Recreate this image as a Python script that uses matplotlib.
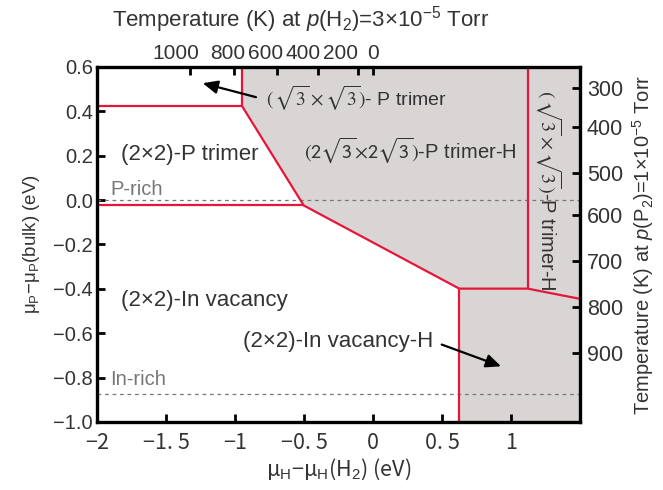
import matplotlib
matplotlib.use("Agg")
import matplotlib.pyplot as plt
from matplotlib.patches import Polygon

plt.rcParams['font.family'] = ['Liberation Sans', 'DejaVu Sans']
plt.rcParams['mathtext.fontset'] = 'custom'
plt.rcParams['mathtext.rm'] = 'Liberation Sans'
plt.rcParams['mathtext.it'] = 'Liberation Sans:italic'
plt.rcParams['mathtext.bf'] = 'Liberation Sans:bold'

# ---- data ----
x_ticks = [-2, -1.5, -1, -0.5, 0, 0.5, 1]
x_ticklabels = ["−2", "−1. 5", "−1", "−0. 5", "0", "0. 5", "1"]
y_ticks = [0.6, 0.4, 0.2, 0.0, -0.2, -0.4, -0.6, -0.8, -1.0]
y_ticklabels = ["0.6", "0.4", "0.2", "0.0", "−0.2", "−0.4", "−0.6", "−0.8", "−1.0"]

# top temperature axis (p(H2)=3e-5 Torr)
top_tick_pos = [-1.326, -1.009, -0.698, -0.401, -0.111, 0.0]
top_label_pos = [-1.428, -1.051, -0.775, -0.509, -0.239, 0.0]
top_labels = ["1000", "800", "600", "400", "200", "0"]

# right temperature axis (p(P2)=1e-5 Torr)
right_tick_pos = [0.504, 0.331, 0.120, -0.065, -0.274, -0.482, -0.690]
right_labels = ["300", "400", "500", "600", "700", "800", "900"]

# phase boundaries (red lines)
b1_x, b1_y = [-2.0, -0.951, -0.951], [0.426, 0.426, 0.6]
b2_x, b2_y = [-0.951, -0.502, 0.625], [0.426, -0.024, -0.399]
b3_x, b3_y = [-2.0, -0.502], [-0.024, -0.024]
b4_x, b4_y = [0.625, 0.625], [-0.399, -1.0]
b5_x, b5_y = [0.625, 1.121, 1.5], [-0.399, -0.399, -0.445]
b6_x, b6_y = [1.121, 1.121], [-0.399, 0.6]

# hydrogenated (shaded) region
shade_x = [-0.951, -0.951, -0.502, 0.625, 0.625, 1.5, 1.5]
shade_y = [0.6, 0.426, -0.024, -0.399, -1.0, -1.0, 0.6]

p_rich = 0.0
in_rich = -0.873

red = '#e3173a'
gray_fill = '#d9d5d5'
txt = '#333333'

fig = plt.figure(figsize=(6.63, 4.90), dpi=100)
ax = fig.add_axes([0.1463, 0.1388, 0.8748 - 0.1463, 0.8633 - 0.1388])
ax.set_xlim(-2, 1.5)
ax.set_ylim(-1.0, 0.6)

ax.add_patch(Polygon(list(zip(shade_x, shade_y)), closed=True,
                     facecolor=gray_fill, edgecolor='none', zorder=1))

for xs, ys in [(b1_x, b1_y), (b2_x, b2_y), (b3_x, b3_y), (b4_x, b4_y), (b5_x, b5_y), (b6_x, b6_y)]:
    ax.plot(xs, ys, color=red, lw=1.6, zorder=3, solid_capstyle='butt')

for yv in [p_rich, in_rich]:
    ax.axhline(yv, color='#777777', lw=0.9, ls=(0, (3, 3)), zorder=2)

# spines & ticks
for s in ax.spines.values():
    s.set_linewidth(2.4)
    s.set_zorder(5)
ax.set_xticks(x_ticks)
ax.set_xticklabels(x_ticklabels, family=['Noto Sans CJK JP', 'DejaVu Sans'], fontsize=15.5)
ax.set_yticks(y_ticks)
ax.set_yticklabels(y_ticklabels, fontsize=14.5)
ax.tick_params(axis='both', direction='in', length=6, width=2, colors='black',
               labelcolor=txt)
ax.tick_params(axis='x', pad=7)
ax.tick_params(axis='y', pad=3)

ax.set_xlabel("μ$_{\\mathrm{H}}$−μ$_{\\mathrm{H}}$(H$_2$) (eV)",
              family=['Noto Sans CJK JP', 'DejaVu Sans'], fontsize=15.5, color=txt)
ax.xaxis.set_label_coords(0.5, -0.098)
ax.set_ylabel("μ$_{\\mathrm{P}}$−μ$_{\\mathrm{P}}$(bulk) (eV)", fontsize=13.5, color=txt)
ax.yaxis.set_label_coords(-0.114, 0.5)

# top axis
axt = ax.twiny()
axt.set_xlim(ax.get_xlim())
axt.xaxis.remove_overlapping_locs = False
axt.set_xticks(top_tick_pos)
axt.set_xticklabels([""] * len(top_tick_pos))
axt.set_xticks(top_label_pos, minor=True)
axt.set_xticklabels(top_labels, minor=True, fontsize=15, color=txt)
axt.tick_params(axis='x', which='major', direction='in', length=6, width=2)
axt.tick_params(axis='x', which='minor', length=0, pad=3)
axt.set_xlabel("Temperature (K) at $\\it{p}$(H$_2$)=3×10$^{-5}$ Torr",
               fontsize=16, color=txt)
axt.xaxis.set_label_coords(0.422, 1.115)
for s in axt.spines.values():
    s.set_visible(False)

# right axis
axr = ax.twinx()
axr.set_ylim(ax.get_ylim())
axr.set_yticks(right_tick_pos)
axr.set_yticklabels(right_labels, fontsize=15.5, color=txt)
axr.tick_params(axis='y', direction='in', length=6, width=2, pad=5)
axr.set_ylabel("Temperature (K) at $\\it{p}$(P$_2$)=1×10$^{-5}$ Torr",
               fontsize=14.5, color=txt, labelpad=5)
for s in axr.spines.values():
    s.set_visible(False)

# region labels
fs = 16
ax.text(-1.826, 0.206, "(2×2)-P trimer", fontsize=fs, color=txt, va='center', zorder=6)
ax.text(-0.502, 0.226, r"$(2\sqrt{3}{\times}2\sqrt{3})$-P trimer-H", fontsize=14.5, color=txt,
        va='center', math_fontfamily='stixsans', zorder=6)
ax.text(-0.775, 0.459, r"$(\,\sqrt{3}\times\sqrt{3})$- P trimer", fontsize=14, color=txt,
        va='center', math_fontfamily='stix', zorder=6)
ax.text(-1.826, -0.451, "(2×2)-In vacancy", fontsize=fs, color=txt, va='center', zorder=6)
ax.text(-0.944, -0.637, "(2×2)-In vacancy-H", fontsize=fs, color=txt, va='center', zorder=6)
ax.text(1.275, 0.045, r"$(\,\sqrt{3}\times\sqrt{3})$-P trimer-H", fontsize=14.5, color=txt,
        va='center', ha='center', rotation=270, math_fontfamily='stix', zorder=6)
ax.text(-1.903, 0.05, "P-rich", fontsize=14.5, color='#777777', va='center', zorder=6)
ax.text(-1.903, -0.81, "In-rich", fontsize=14.5, color='#777777', va='center', zorder=6)

arrow = dict(arrowstyle='-|>,head_length=0.9,head_width=0.4', color='black', lw=1.6,
             shrinkA=0, shrinkB=0)
ax.annotate("", xy=(-1.234, 0.527), xytext=(-0.848, 0.464), arrowprops=arrow, zorder=6)
ax.annotate("", xy=(0.928, -0.749), xytext=(0.498, -0.651), arrowprops=arrow, zorder=6)

fig.savefig("out.png", dpi=100)
